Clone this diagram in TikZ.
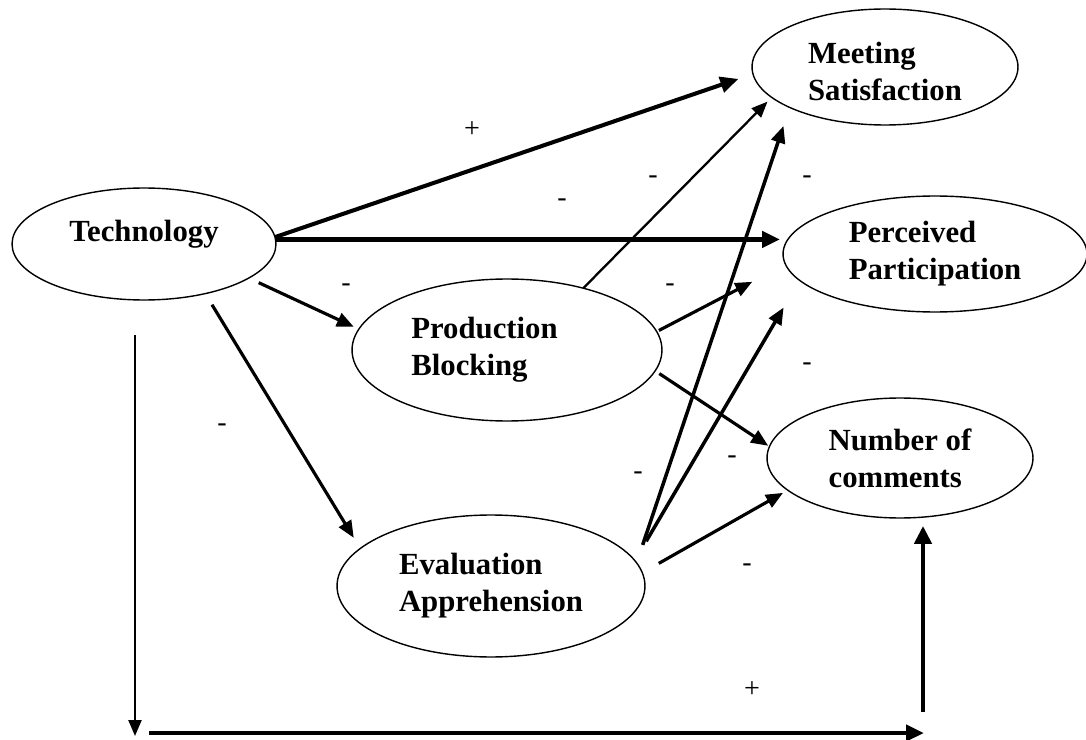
\documentclass[tikz,border=0pt]{standalone}
\usepackage{fontspec}
\setmainfont{Liberation Serif}
\usetikzlibrary{shapes.geometric,arrows.meta}

\tikzset{
  var/.style={ellipse, draw, line width=0.8pt, inner sep=0pt, outer sep=0pt,
    align=left, font=\fontsize{17.5}{21}\selectfont\bfseries},
  sgn/.style={inner sep=0pt, font=\fontsize{16}{18}\selectfont},
  arrthick/.style={line width=2.6pt, -{Triangle[length=0.36cm,width=0.32cm]}},
  arrmid/.style={line width=1.8pt, -{Triangle[length=0.34cm,width=0.28cm]}},
  arrthin/.style={line width=1.3pt, -{Triangle[length=0.32cm,width=0.26cm]}}
}

\begin{document}
\begin{tikzpicture}[x=0.02cm, y=-0.02cm]
    % Rahmen (1086 x 740)
    \useasboundingbox (0,0) rectangle (1086,740);

    % Variablen
    \node[var, minimum width=5.28cm, minimum height=2.24cm, text depth=15pt] (tech) at (144,244) {Technology};
    \node[var, minimum width=5.32cm, minimum height=2.32cm, text height=38pt] (meet) at (885,67) {Meeting\\Satisfaction};
    \node[var, minimum width=6.08cm, minimum height=2.32cm] (part) at (935,254) {Perceived\\Participation};
    \node[var, minimum width=5.32cm, minimum height=2.4cm] (comm) at (900,458) {Number of\\comments};
    \node[var, minimum width=6.2cm, minimum height=2.84cm] (block) at (507,350) {Production\hspace*{0.9cm}\\Blocking};
    \node[var, minimum width=6.16cm, minimum height=2.84cm] (eval) at (491,586) {Evaluation\\Apprehension};

    % Technology
    \draw[arrthick, line width=2.3pt] (tech.3) -- (meet.183) [shorten >=0.31cm];
    \draw[arrthick] (tech.2) -- (tech.2 -| part.west) [shorten >=0.06cm];
    \draw[arrmid] (tech.-18) -- (block.172.5) [shorten <=0.22cm, shorten >=0.11cm];
    \draw[arrmid] (tech.-39) -- (eval.164) [shorten <=0.26cm, shorten >=0.25cm];

    % Production Blocking
    \draw[arrthin] (block.39) -- (meet.195) [shorten >=0.12cm];
    \draw[arrmid] (block.7.5) -- (part.184) [shorten <=0.05cm, shorten >=0.75cm];
    \draw[arrmid] (block.-8.6) -- (comm.175) [shorten <=0.1cm, shorten >=0.03cm];

    % Evaluation Apprehension
    \draw[arrmid, line width=2pt] (eval.9) -- (meet.203) [shorten <=0.38cm, shorten >=0.39cm];
    \draw[arrmid, line width=2pt] (eval.10) -- (part.191) [shorten <=0.45cm, shorten >=0.63cm];
    \draw[arrmid] (eval.5.7) -- (comm.196) [shorten <=0.38cm, shorten >=0.11cm];

    % unterer Umweg
    \coordinate (botL) at (135,736);
    \coordinate (botS) at (149,733);
    \coordinate (botR) at (924,733);
    \coordinate (upR) at (923,712);
    \draw[arrthin] ([shift={(-9,35)}]tech.south) -- (botL);
    \draw[arrthick] (botS) -- (botR);
    \draw[arrthick, -{Triangle[length=0.36cm,width=0.34cm]}] (upR) -- (upR |- comm.-67) [shorten >=0.18cm];

    % Vorzeichen
    \node[sgn] (p1) at (472,130) {+};
    \node[sgn] (p2) at (752,690) {+};
    \node[sgn] (m1) at (562,203) {-};
    \node[sgn] (m2) at (653,180) {-};
    \node[sgn] (m3) at (807,180) {-};
    \node[sgn] (m4) at (346,288) {-};
    \node[sgn] (m5) at (670,288) {-};
    \node[sgn] (m6) at (807,367) {-};
    \node[sgn] (m7) at (222,428) {-};
    \node[sgn] (m8) at (638,476) {-};
    \node[sgn] (m9) at (732,460) {-};
    \node[sgn] (m10) at (747,568) {-};
\end{tikzpicture}
\end{document}
